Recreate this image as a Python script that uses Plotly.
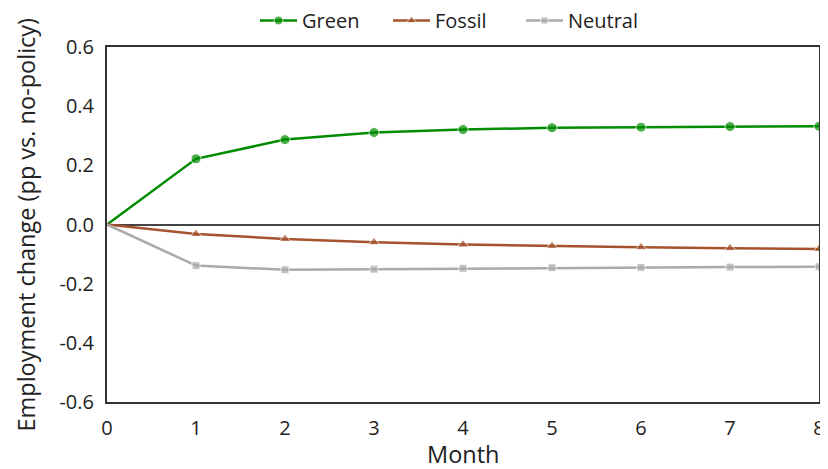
import plotly.graph_objects as go

months = [0, 1, 2, 3, 4, 5, 6, 7, 8]
green = [0.0, 0.222, 0.287, 0.311, 0.321, 0.327, 0.329, 0.331, 0.332]
fossil = [0.0, -0.032, -0.049, -0.060, -0.068, -0.073, -0.077, -0.080, -0.083]
neutral = [0.0, -0.139, -0.153, -0.151, -0.148, -0.146, -0.145, -0.144, -0.143]
y_ticks = [-0.6, -0.4, -0.2, 0.0, 0.2, 0.4, 0.6]
y_tick_labels = ["-0.6", "-0.4", "-0.2", "0.0", "0.2", "0.4", "0.6"]
x_title = "Month"
y_title = "Employment change (pp vs. no-policy)"

font_family = "Open Sans, DejaVu Sans, sans-serif"

# page body has an 8px margin, so the figure is 8px smaller than the window
W, H = 820, 461
L, R, T, B = 99, 9, 39, 67
plot_w = W - L - R
plot_h = H - T - B

def sizes(s):
    return [0] + [s] * (len(months) - 1)

fig = go.Figure()
fig.add_trace(go.Scatter(x=months, y=green, name="Green", mode="lines+markers",
                         line=dict(color="#008c00", width=2.5),
                         marker=dict(symbol="circle", size=sizes(10), color="#008c00")))
fig.add_trace(go.Scatter(x=months, y=fossil, name="Fossil", mode="lines+markers",
                         line=dict(color="#a5522e", width=2.5),
                         marker=dict(symbol="triangle-up", size=sizes(10), color="#a5522e")))
fig.add_trace(go.Scatter(x=months, y=neutral, name="Neutral", mode="lines+markers",
                         line=dict(color="#aaaaaa", width=2.5),
                         marker=dict(symbol="square", size=sizes(8), color="#aaaaaa")))

title_font = dict(family=font_family, size=23.5, color="#222")
fig.add_annotation(text=x_title, xref="paper", yref="paper", x=0.5, y=0,
                   xanchor="center", yanchor="middle", yshift=-52, showarrow=False,
                   font=title_font)
fig.add_annotation(text=y_title, xref="paper", yref="paper", x=0, y=0.5,
                   xanchor="center", yanchor="middle", xshift=-82, textangle=-90,
                   showarrow=False, font=title_font)

fig.update_layout(
    width=W, height=H,
    margin=dict(l=L, r=R, t=T, b=B, autoexpand=False),
    paper_bgcolor="white", plot_bgcolor="white",
    font=dict(family=font_family, size=20, color="#222"),
    legend=dict(orientation="h", x=(247 - L) / plot_w, xanchor="left",
                y=1 + (T - 12.5) / plot_h, yanchor="middle",
                font=dict(size=20), itemwidth=37, entrywidth=81,
                bgcolor="rgba(0,0,0,0)"),
    xaxis=dict(range=[0, 8], tickvals=months, showgrid=False, zeroline=False,
               showline=True, linecolor="#333", linewidth=2, mirror=True,
               ticks="", ticklabelstandoff=7, automargin=False,
               tickfont=dict(size=20)),
    yaxis=dict(range=[-0.6, 0.6], tickvals=y_ticks, ticktext=y_tick_labels,
               showgrid=False, zeroline=True, zerolinecolor="#444", zerolinewidth=2,
               showline=True, linecolor="#333", linewidth=2, mirror=True,
               ticks="", ticklabelstandoff=7, automargin=False,
               tickfont=dict(size=20)),
)

fig.write_html("out.html")
